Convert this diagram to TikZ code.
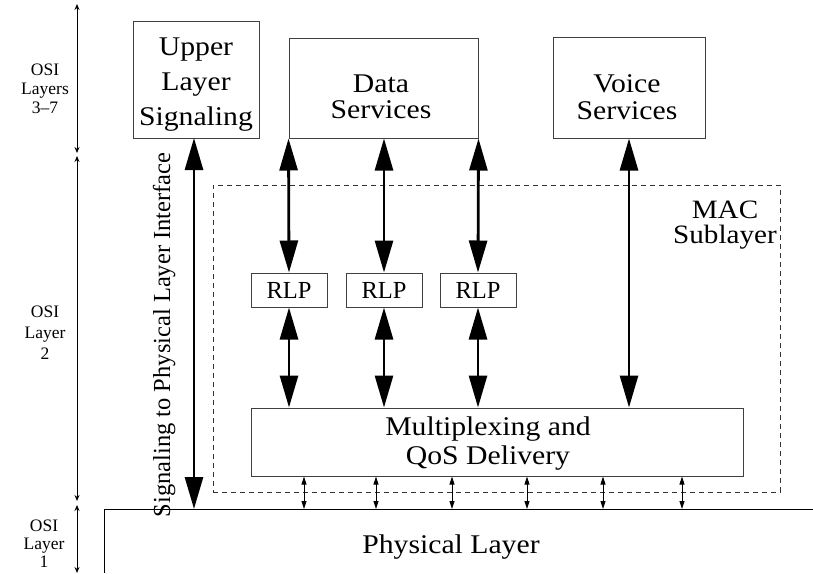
\documentclass[tikz,border=0pt]{standalone}
\usepackage{fontspec}
\setmainfont{Liberation Serif}[FakeStretch=1.1]
\newfontfamily\narrowserif{Liberation Serif}
\usetikzlibrary{arrows.meta}
\begin{document}
\begin{tikzpicture}[x=1pt,y=-1pt,
  box/.style={draw=black!75, line width=1pt, inner sep=0pt},
  lbl/.style={align=center, inner sep=0pt, font=\fontsize{27}{26.5}\selectfont},
  osi/.style={align=center, inner sep=0pt, font=\narrowserif\fontsize{17.5}{19}\selectfont},
  bigarrow/.style={line width=2.8pt, {Triangle[length=32pt,width=18pt]}-{Triangle[length=32pt,width=18pt]}},
  smallarrow/.style={line width=0.9pt, {Triangle[length=8pt,width=5pt]}-{Triangle[length=8pt,width=5pt]}},
  osiarrow/.style={line width=0.8pt, {Stealth[length=6pt,width=5pt,inset=2pt]}-{Stealth[length=6pt,width=5pt,inset=2pt]}},
  dashedbox/.style={draw=black!80, line width=0.9pt, dash pattern=on 5pt off 4pt},
]
\useasboundingbox (0,0) rectangle (813,573);

% OSI layer scale
\coordinate (o1) at (77,4);
\coordinate (o2) at (77,153);
\coordinate (o3) at (77,156);
\coordinate (o4) at (77,501);
\coordinate (o5) at (77,505);
\coordinate (o6) at (77,573);
\draw[osiarrow] (o1) -- (o2);
\draw[osiarrow] (o3) -- (o4);
\draw[osiarrow] (o5) -- (o6);
\node[osi, anchor=base] (osi37) at (45,113) {OSI\\Layers\\3–7};
\node[osi, anchor=base, font=\narrowserif\fontsize{17.5}{21}\selectfont] (osi2) at (45,359) {OSI\\Layer\\2};
\node[osi, anchor=base, font=\narrowserif\fontsize{17.5}{18}\selectfont] (osi1) at (44,567) {OSI\\Layer\\1};

% top boxes
\node[box, minimum width=126pt, minimum height=117pt] (uls) at (196,79.5) {};
\node[lbl, anchor=base, font=\fontsize{27}{35}\selectfont] (ulst) at (196,125) {Upper\\Layer\\Signaling};
\node[box, minimum width=189pt, minimum height=100pt] (data) at (383.5,88) {};
\node[lbl, anchor=base] (datat) at (381,118.5) {Data\\Services};
\node[box, minimum width=152pt, minimum height=101pt] (voice) at (629,87.5) {};
\node[lbl, anchor=base] (voicet) at (627,119) {Voice\\Services};

% MAC sublayer
\node[dashedbox, minimum width=567pt, minimum height=307pt] (mac) at (496.5,338.5) {};
\node[lbl, anchor=base, font=\fontsize{26.5}{24.5}\selectfont] (mact) at (725,243) {MAC\\Sublayer};

% RLP boxes
\node[box, minimum width=76pt, minimum height=34pt, font=\narrowserif\fontsize{24.5}{26}\selectfont] (rlp1) at (289,290) {RLP};
\node[box, minimum width=76pt, minimum height=34pt, font=\narrowserif\fontsize{24.5}{26}\selectfont] (rlp2) at (384,290) {RLP};
\node[box, minimum width=76pt, minimum height=34pt, font=\narrowserif\fontsize{24.5}{26}\selectfont] (rlp3) at (478,290) {RLP};

% Multiplexing box
\node[box, minimum width=492pt, minimum height=68pt] (mux) at (497,442) {};
\node[lbl, anchor=base, font=\fontsize{27}{28.5}\selectfont] (muxt) at (488,464) {Multiplexing and\\QoS Delivery};

% Physical layer
\coordinate (phl) at (104,509);
\coordinate (phr) at (813,509);
\coordinate (phb) at (104,573);
\draw[line width=1pt] (phb) -- (phl) -- (phr);
\node[lbl, anchor=base] (phys) at (451,553) {Physical Layer};

% thick arrows
\draw[bigarrow] (data.south west) -- (rlp1.north);
\draw[bigarrow] (rlp2.north |- data.south) -- (rlp2.north);
\draw[bigarrow] (data.south east) -- (rlp3.north);
\draw[bigarrow] (rlp1.south) -- (rlp1.south |- mux.north);
\draw[bigarrow] (rlp2.south) -- (rlp2.south |- mux.north);
\draw[bigarrow] (rlp3.south) -- (rlp3.south |- mux.north);
\draw[bigarrow] (voice.south) -- (voice.south |- mux.north);
\coordinate (sigtop) at (194,138);
\draw[bigarrow] (sigtop) -- (sigtop |- phl);
\node[rotate=90, anchor=base, inner sep=0pt, font=\narrowserif\fontsize{24.5}{26}\selectfont] (sigt) at (170,335) {Signaling to Physical Layer Interface};

% small arrows between mux and physical layer
\foreach \i/\x in {1/304,2/376,3/452,4/527,5/603,6/682}{
  \coordinate (s\i) at (\x,509);
  \draw[smallarrow] (s\i |- mux.south) -- (s\i);
}
\end{tikzpicture}
\end{document}
